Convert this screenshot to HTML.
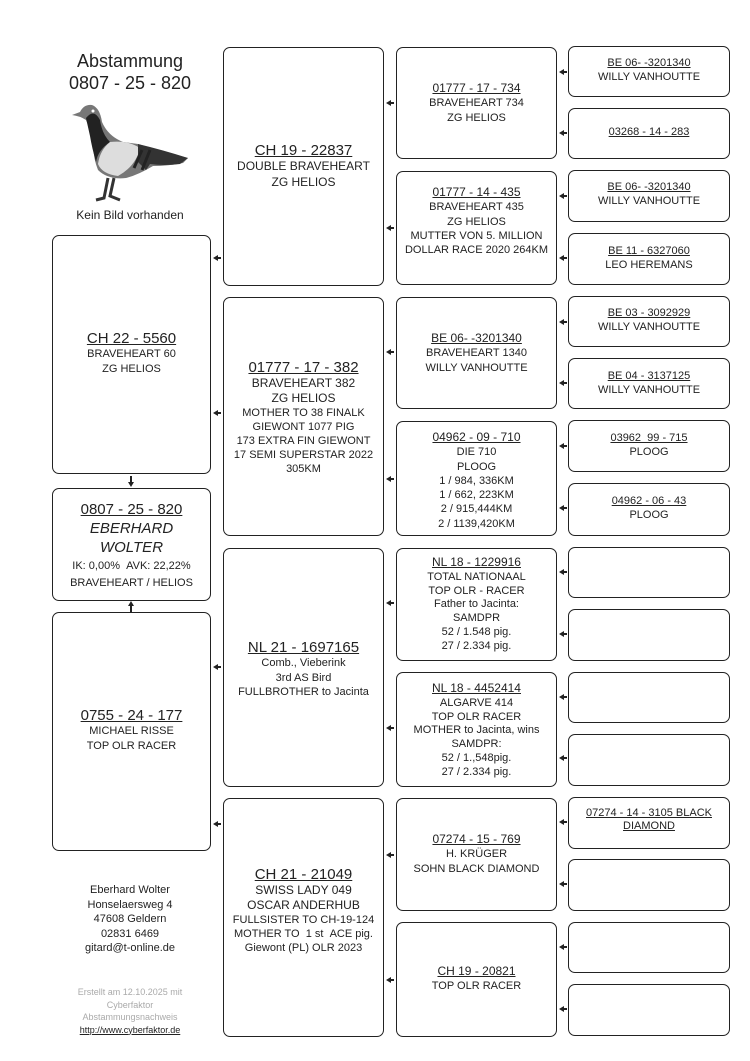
<!DOCTYPE html>
<html><head><meta charset="utf-8"><style>
body{margin:0;background:#fff;width:750px;height:1061px;position:relative;overflow:hidden;font-family:"Liberation Sans",Arial,sans-serif;color:#222}
.b{position:absolute;border:1.8px solid #222;border-radius:7px;box-sizing:border-box;text-align:center;font-size:11px;line-height:14.3px}
.b .t{position:absolute;left:0;right:0}
u{text-decoration:underline}
.h{font-size:12px}
.H{font-size:15px;line-height:17px}
.a{position:absolute;width:0;height:0;border-top:3.5px solid transparent;border-bottom:3.5px solid transparent;border-right:5px solid #222}
.a:after{content:"";position:absolute;left:4px;top:-1px;width:4px;height:2px;background:#222}
</style></head><body>

<div style="position:absolute;left:40px;top:50px;width:180px;text-align:center;font-size:18px;line-height:22px">Abstammung<br>0807 - 25 - 820</div>
<svg style="position:absolute;left:68px;top:100px" width="125" height="110" viewBox="0 0 125 110">
<path d="M4 15 L12 12 Q16 4 24 5 Q32 8 34 22 Q40 36 55 42 L70 44 Q95 52 120 58 L115 63 Q100 66 85 66 Q70 75 58 78 Q40 80 30 70 Q24 55 26 40 Q22 30 18 20 Q12 16 4 15Z" fill="#777"/>
<path d="M18 18 Q26 8 32 20 Q34 34 42 42 Q30 50 28 62 Q24 48 22 36Z" fill="#222"/>
<path d="M42 42 Q60 40 72 48 Q68 66 50 76 Q34 74 30 64 Q32 50 42 42Z" fill="#ddd"/>
<path d="M70 44 Q95 50 120 58 L112 64 Q96 66 82 64 L78 70 L70 62Z" fill="#333"/>
<path d="M74 50 L66 68 M82 50 L74 70" stroke="#222" stroke-width="3"/>
<path d="M40 78 L36 98 L28 100 M46 78 L42 96 L52 100" stroke="#333" stroke-width="3" fill="none"/>
<circle cx="25" cy="11" r="1.5" fill="#fff"/>
</svg>
<div style="position:absolute;left:40px;top:208px;width:180px;text-align:center;font-size:12px">Kein Bild vorhanden</div>

<div class="b" style="left:52px;top:235px;width:159px;height:239px"><div class="t" style="top:94px"><u class="H">CH 22 - 5560</u><br>BRAVEHEART 60<br>ZG HELIOS</div></div>
<div class="b" style="left:52px;top:488px;width:159px;height:113px;line-height:17px"><div class="t" style="top:12px"><u class="H">0807 - 25 - 820</u><br><i style="font-size:15px">EBERHARD<br>WOLTER</i><br>IK: 0,00% &nbsp;AVK: 22,22%<br>BRAVEHEART / HELIOS</div></div>
<div class="b" style="left:52px;top:612px;width:159px;height:239px"><div class="t" style="top:94px"><u class="H">0755 - 24 - 177</u><br>MICHAEL RISSE<br>TOP OLR RACER</div></div>
<div style="position:absolute;left:130px;top:476px;width:2px;height:8px;background:#222"></div>
<div style="position:absolute;left:128px;top:482px;border-left:3px solid transparent;border-right:3px solid transparent;border-top:5px solid #222"></div>
<div style="position:absolute;left:130px;top:604px;width:2px;height:8px;background:#222"></div>
<div style="position:absolute;left:128px;top:601px;border-left:3px solid transparent;border-right:3px solid transparent;border-bottom:5px solid #222"></div>

<div style="position:absolute;left:40px;top:883px;width:180px;text-align:center;font-size:11px;line-height:14.5px">Eberhard Wolter<br>Honselaersweg 4<br>47608 Geldern<br>02831 6469<br>gitard@t-online.de</div>
<div style="position:absolute;left:40px;top:986px;width:180px;text-align:center;font-size:9px;line-height:12.5px;color:#aaa">Erstellt am 12.10.2025 mit<br>Cyberfaktor<br>Abstammungsnachweis<br><u style="color:#222">http://www.cyberfaktor.de</u></div>

<div class="b" style="left:223px;top:47px;width:161px;height:239px"><div class="t" style="top:94px"><u class="H">CH 19 - 22837</u><br><span class="h">DOUBLE BRAVEHEART<br>ZG HELIOS</span></div></div>
<div class="b" style="left:223px;top:297px;width:161px;height:239px;line-height:14px"><div class="t" style="top:61px"><u class="H">01777 - 17 - 382</u><br><span class="h">BRAVEHEART 382<br>ZG HELIOS</span><br>MOTHER TO 38 FINALK<br>GIEWONT 1077 PIG<br>173 EXTRA FIN GIEWONT<br>17 SEMI SUPERSTAR 2022<br>305KM</div></div>
<div class="b" style="left:223px;top:548px;width:161px;height:239px"><div class="t" style="top:90px"><u class="H">NL 21 - 1697165</u><br>Comb., Vieberink<br>3rd AS Bird<br>FULLBROTHER to Jacinta</div></div>
<div class="b" style="left:223px;top:798px;width:161px;height:239px;line-height:14px"><div class="t" style="top:67px"><u class="H">CH 21 - 21049</u><br><span class="h">SWISS LADY 049<br>OSCAR ANDERHUB</span><br>FULLSISTER TO CH-19-124<br>MOTHER TO &nbsp;1 st &nbsp;ACE pig.<br>Giewont (PL) OLR 2023</div></div>

<div class="b" style="left:396px;top:47px;width:161px;height:112px"><div class="t" style="top:33px"><u class="h">01777 - 17 - 734</u><br>BRAVEHEART 734<br>ZG HELIOS</div></div>
<div class="b" style="left:396px;top:171px;width:161px;height:114px"><div class="t" style="top:13px"><u class="h">01777 - 14 - 435</u><br>BRAVEHEART 435<br>ZG HELIOS<br>MUTTER VON 5. MILLION<br>DOLLAR RACE 2020 264KM</div></div>
<div class="b" style="left:396px;top:297px;width:161px;height:112px"><div class="t" style="top:33px"><u class="h">BE 06- -3201340</u><br>BRAVEHEART 1340<br>WILLY VANHOUTTE</div></div>
<div class="b" style="left:396px;top:421px;width:161px;height:115px"><div class="t" style="top:8px"><u class="h">04962 - 09 - 710</u><br>DIE 710<br>PLOOG<br>1 / 984, 336KM<br>1 / 662, 223KM<br>2 / 915,444KM<br>2 / 1139,420KM</div></div>
<div class="b" style="left:396px;top:548px;width:161px;height:113px;line-height:13.8px"><div class="t" style="top:7px"><u class="h">NL 18 - 1229916</u><br>TOTAL NATIONAAL<br>TOP OLR - RACER<br>Father to Jacinta:<br>SAMDPR<br>52 / 1.548 pig.<br>27 / 2.334 pig.</div></div>
<div class="b" style="left:396px;top:672px;width:161px;height:115px;line-height:13.8px"><div class="t" style="top:9px"><u class="h">NL 18 - 4452414</u><br>ALGARVE 414<br>TOP OLR RACER<br>MOTHER to Jacinta, wins<br>SAMDPR:<br>52 / 1.,548pig.<br>27 / 2.334 pig.</div></div>
<div class="b" style="left:396px;top:798px;width:161px;height:113px"><div class="t" style="top:33px"><u class="h">07274 - 15 - 769</u><br>H. KRÜGER<br>SOHN BLACK DIAMOND</div></div>
<div class="b" style="left:396px;top:922px;width:161px;height:115px"><div class="t" style="top:41px"><u class="h">CH 19 - 20821</u><br>TOP OLR RACER</div></div>

<div class="b" style="left:568px;top:46px;width:162px;height:51px"><div class="t" style="top:9px"><u>BE 06- -3201340</u><br>WILLY VANHOUTTE</div></div>
<div class="b" style="left:568px;top:108px;width:162px;height:51px"><div class="t" style="top:16px"><u>03268 - 14 - 283</u></div></div>
<div class="b" style="left:568px;top:170px;width:162px;height:52px"><div class="t" style="top:9px"><u>BE 06- -3201340</u><br>WILLY VANHOUTTE</div></div>
<div class="b" style="left:568px;top:233px;width:162px;height:52px"><div class="t" style="top:10px"><u>BE 11 - 6327060</u><br>LEO HEREMANS</div></div>
<div class="b" style="left:568px;top:296px;width:162px;height:51px"><div class="t" style="top:9px"><u>BE 03 - 3092929</u><br>WILLY VANHOUTTE</div></div>
<div class="b" style="left:568px;top:358px;width:162px;height:51px"><div class="t" style="top:10px"><u>BE 04 - 3137125</u><br>WILLY VANHOUTTE</div></div>
<div class="b" style="left:568px;top:420px;width:162px;height:52px"><div class="t" style="top:10px"><u>03962 &nbsp;99 - 715</u><br>PLOOG</div></div>
<div class="b" style="left:568px;top:483px;width:162px;height:53px"><div class="t" style="top:10px"><u>04962 - 06 - 43</u><br>PLOOG</div></div>
<div class="b" style="left:568px;top:547px;width:162px;height:51px"></div>
<div class="b" style="left:568px;top:609px;width:162px;height:52px"></div>
<div class="b" style="left:568px;top:672px;width:162px;height:51px"></div>
<div class="b" style="left:568px;top:734px;width:162px;height:52px"></div>
<div class="b" style="left:568px;top:797px;width:162px;height:52px;line-height:12.5px"><div class="t" style="top:9px"><u>07274 - 14 - 3105 BLACK<br>DIAMOND</u></div></div>
<div class="b" style="left:568px;top:859px;width:162px;height:52px"></div>
<div class="b" style="left:568px;top:922px;width:162px;height:51px"></div>
<div class="b" style="left:568px;top:984px;width:162px;height:52px"></div>

<div class="a" style="left:213px;top:255px"></div>
<div class="a" style="left:213px;top:410px"></div>
<div class="a" style="left:213px;top:664px"></div>
<div class="a" style="left:213px;top:821px"></div>
<div class="a" style="left:386px;top:100px"></div>
<div class="a" style="left:386px;top:225px"></div>
<div class="a" style="left:386px;top:349px"></div>
<div class="a" style="left:386px;top:476px"></div>
<div class="a" style="left:386px;top:600px"></div>
<div class="a" style="left:386px;top:725px"></div>
<div class="a" style="left:386px;top:852px"></div>
<div class="a" style="left:386px;top:977px"></div>
<div class="a" style="left:559px;top:69px"></div>
<div class="a" style="left:559px;top:130px"></div>
<div class="a" style="left:559px;top:193px"></div>
<div class="a" style="left:559px;top:255px"></div>
<div class="a" style="left:559px;top:319px"></div>
<div class="a" style="left:559px;top:380px"></div>
<div class="a" style="left:559px;top:443px"></div>
<div class="a" style="left:559px;top:505px"></div>
<div class="a" style="left:559px;top:569px"></div>
<div class="a" style="left:559px;top:631px"></div>
<div class="a" style="left:559px;top:694px"></div>
<div class="a" style="left:559px;top:755px"></div>
<div class="a" style="left:559px;top:819px"></div>
<div class="a" style="left:559px;top:881px"></div>
<div class="a" style="left:559px;top:944px"></div>
<div class="a" style="left:559px;top:1006px"></div>
</body></html>
